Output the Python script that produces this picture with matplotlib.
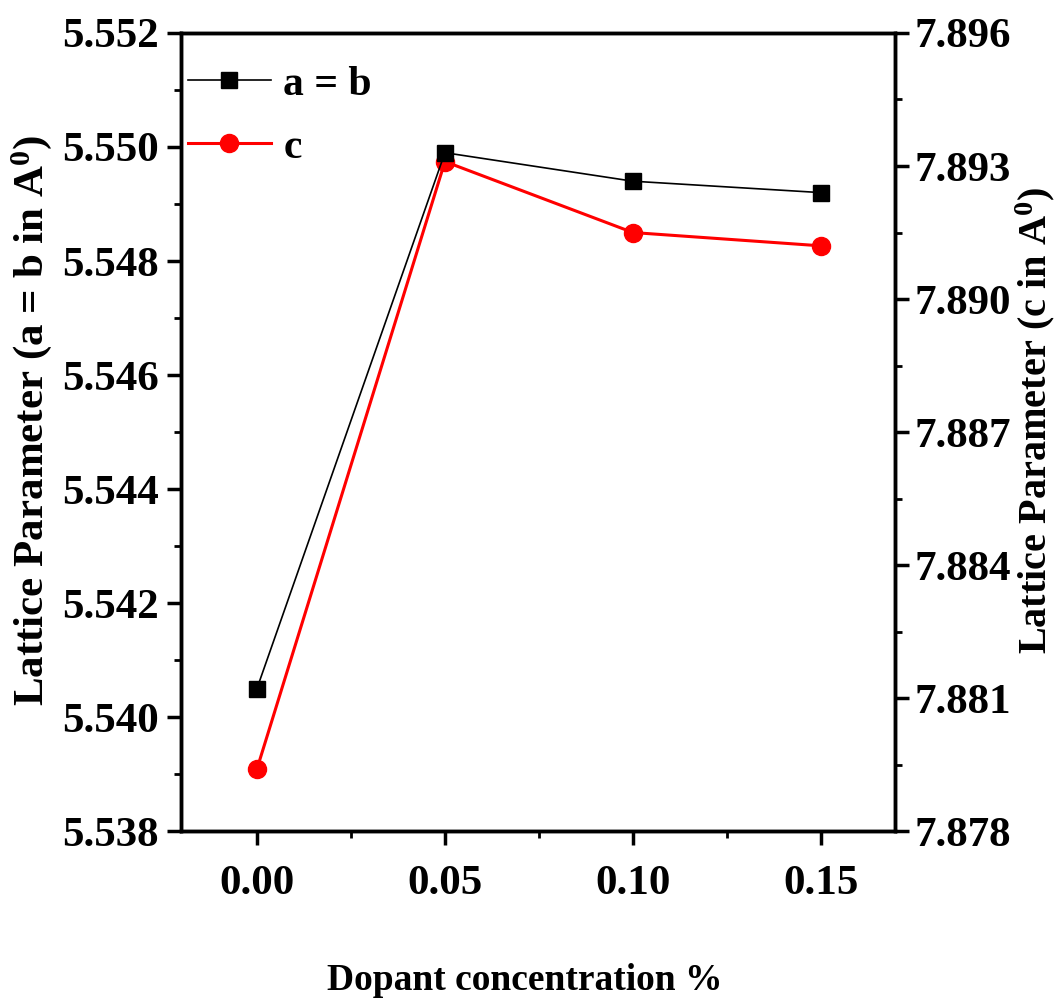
import matplotlib
matplotlib.use("Agg")
import matplotlib.pyplot as plt
from matplotlib.ticker import MultipleLocator, FormatStrFormatter

# --- estilo ---
plt.rcParams.update({
    'font.family': 'Liberation Serif',
    'font.weight': 'bold',
    'mathtext.fontset': 'custom',
    'mathtext.rm': 'Liberation Serif:bold',
    'mathtext.it': 'Liberation Serif:bold',
    'mathtext.bf': 'Liberation Serif:bold',
    'axes.linewidth': 2.5,
})

# datos
conc = [0.00, 0.05, 0.10, 0.15]
a_b = [5.5405, 5.5499, 5.5494, 5.5492]
c_param = [7.8794, 7.8931, 7.8915, 7.8912]

fig = plt.figure(figsize=(10.58, 9.98), dpi=100)
ax1 = fig.add_axes([0.171, 0.167, 0.675, 0.800])

l1, = ax1.plot(conc, a_b, color='black', lw=1.2, marker='s', markersize=12,
               markerfacecolor='black', markeredgecolor='black', label='a = b', zorder=3)

ax1.set_xlim(-0.0202, 0.1697)
ax1.set_ylim(5.538, 5.552)
ax1.xaxis.set_major_locator(MultipleLocator(0.05))
ax1.xaxis.set_minor_locator(MultipleLocator(0.025))
ax1.yaxis.set_major_locator(MultipleLocator(0.002))
ax1.yaxis.set_minor_locator(MultipleLocator(0.001))
ax1.xaxis.set_major_formatter(FormatStrFormatter('%.2f'))
ax1.yaxis.set_major_formatter(FormatStrFormatter('%.3f'))
ax1.tick_params(axis='both', which='major', direction='out', length=10, width=2.5,
                labelsize=31, pad=6)
ax1.tick_params(axis='both', which='minor', direction='out', length=5, width=2)
ax1.tick_params(axis='x', pad=14)
ax1.set_xlabel('Dopant concentration %', fontsize=27, fontweight='bold')
ax1.xaxis.set_label_coords(0.481, -0.165)
ax1.set_ylabel('Lattice Parameter (a = b in A$^{0}$)', fontsize=31, fontweight='bold')
ax1.yaxis.set_label_coords(-0.178, 0.515)

ax2 = ax1.twinx()
l2, = ax2.plot(conc, c_param, color='red', lw=2.2, marker='o', markersize=13,
               markerfacecolor='red', markeredgecolor='red', label='c', zorder=3)
ax2.set_ylim(7.878, 7.896)
ax2.yaxis.set_major_locator(MultipleLocator(0.003))
ax2.yaxis.set_minor_locator(MultipleLocator(0.0015))
ax2.yaxis.set_major_formatter(FormatStrFormatter('%.3f'))
ax2.tick_params(axis='y', which='major', direction='out', length=10, width=2.5,
                labelsize=31, pad=4)
ax2.tick_params(axis='y', which='minor', direction='out', length=5, width=2)
ax2.set_ylabel('Lattice Parameter (c in A$^{0}$)', fontsize=29, fontweight='bold')
ax2.yaxis.set_label_coords(1.166, 0.515)

for ax in (ax1, ax2):
    for lbl in ax.get_xticklabels() + ax.get_yticklabels():
        lbl.set_fontweight('bold')

leg = ax1.legend([l1, l2], ['a = b', 'c'], loc='upper left', bbox_to_anchor=(-0.014, 0.98),
                 frameon=False, fontsize=30, handlelength=2.0, handletextpad=0.3,
                 labelspacing=0.6, borderpad=0.2, borderaxespad=0.2)
ax1.set_zorder(ax2.get_zorder() + 1)
ax1.patch.set_visible(False)

fig.savefig('out.png', dpi=100, facecolor='white')
